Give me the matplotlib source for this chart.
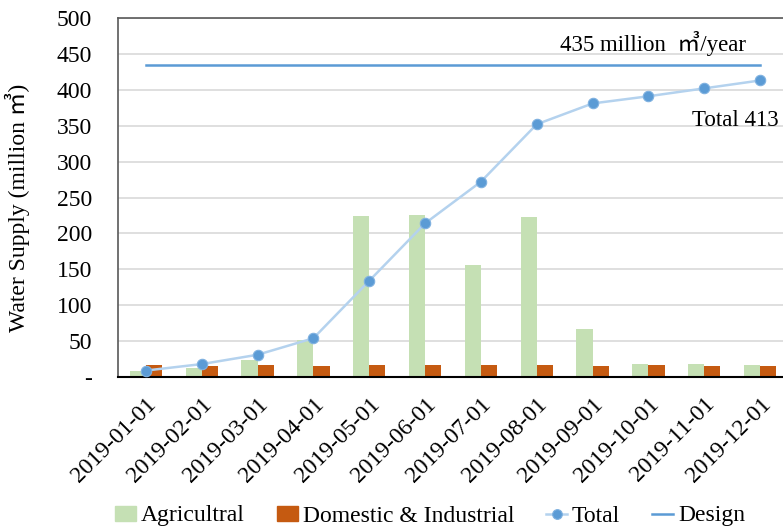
import matplotlib
matplotlib.use("Agg")
import matplotlib.pyplot as plt
from matplotlib.lines import Line2D
from matplotlib.patches import Patch
import numpy as np

plt.rcParams['font.family'] = ['Liberation Serif', 'Noto Sans CJK SC', 'DejaVu Sans']

months = ["2019-01-01", "2019-02-01", "2019-03-01", "2019-04-01", "2019-05-01",
          "2019-06-01", "2019-07-01", "2019-08-01", "2019-09-01", "2019-10-01",
          "2019-11-01", "2019-12-01"]
agricultural = [8, 12, 23, 52, 224, 225, 156, 223, 67, 18, 18, 17]
domestic = [17, 15, 17, 16, 17, 17, 17, 17, 16, 17, 16, 16]
total = [9, 18, 31, 54, 134, 214, 272, 352, 381, 391, 402, 413]
design = [435] * 12
yticks = [0, 50, 100, 150, 200, 250, 300, 350, 400, 450, 500]
ytick_labels = ["-", "50", "100", "150", "200", "250", "300", "350", "400", "450", "500"]

FS = 17

fig = plt.figure(figsize=(7.83, 5.28), dpi=100)
ax = fig.add_axes([118 / 783, 1 - 377 / 528, 670 / 783, 359 / 528])

x = np.arange(len(months))
w = 0.29
ax.bar(x - w / 2, agricultural, w, color="#C5E0B4", zorder=2)
ax.bar(x + w / 2, domestic, w, color="#C55A11", zorder=2)
ax.plot(x, total, color="#B4D2EE", lw=1.8, marker="o", ms=7.5,
        mfc="#5B9BD5", mec="#7FB1E0", mew=0.8, zorder=3)
ax.plot(x, design, color="#5B9BD5", lw=1.8, zorder=3)

ax.set_xlim(-0.5, 11.5)
ax.set_ylim(0, 500)
ax.set_yticks(yticks)
ax.set_yticklabels(ytick_labels, fontsize=FS)
ax.set_xticks(x)
ax.set_xticklabels(months, fontsize=FS, rotation=45, ha="right", va="top",
                   rotation_mode="anchor")
ax.tick_params(axis="both", length=0)
ax.tick_params(axis="x", pad=12)
ax.tick_params(axis="y", pad=18.5)
ax.grid(axis="y", color="#D9D9D9", lw=1.2, zorder=0)
ax.set_axisbelow(True)

for side in ["left", "top"]:
    ax.spines[side].set_color("#595959")
    ax.spines[side].set_linewidth(1.2)
ax.spines["bottom"].set_color("black")
ax.spines["bottom"].set_linewidth(1.5)
ax.spines["right"].set_visible(False)

ax.set_ylabel("Water Supply (million ㎥)", fontsize=FS)
ax.yaxis.set_label_coords(-0.131, 0.47)

ax.text(9.09, 464, "435 million  ㎥/year", fontsize=16.5, ha="center", va="center")
ax.text(10.55, 357, "Total 413", fontsize=16.5, ha="center", va="center")

handles = [
    Patch(color="#C5E0B4"),
    Patch(color="#C55A11"),
    Line2D([], [], color="#B4D2EE", lw=1.8, marker="o", ms=7,
           mfc="#5B9BD5", mec="#7FB1E0", mew=0.8),
    Line2D([], [], color="#5B9BD5", lw=1.8),
]
labels = ["Agricultral", "Domestic & Industrial", "Total", "Design"]
fig.legend(handles, labels, loc="center", bbox_to_anchor=(430 / 783, 1 - 516 / 528),
           ncol=4, frameon=False, fontsize=FS, handlelength=0.9, handleheight=0.6,
           handletextpad=0.2, columnspacing=1.35, borderpad=0)

fig.savefig("out.png", dpi=100)
